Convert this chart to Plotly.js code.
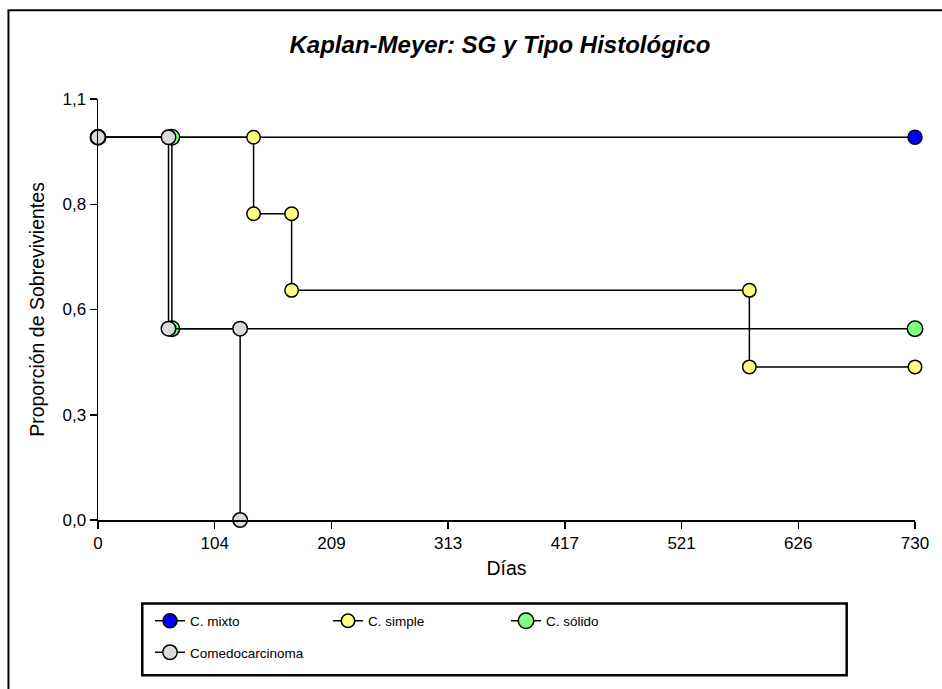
<!DOCTYPE html>
<html>
<head>
<meta charset="utf-8">
<script src="https://cdn.plot.ly/plotly-3.0.1.min.js"></script>
<style>html,body{margin:0;padding:0;background:#fff;}#chart{width:942px;height:689px;}</style>
</head>
<body>
<div id="chart"></div>
<script>
// Series names
const seriesNames = ["C. mixto", "C. simple", "C. sólido", "Comedocarcinoma"];
const seriesColors = ["#0000FF", "#FFFF80", "#80FF80", "#DADADA"];
const markerSizes = [14, 13.5, 15.5, 14.5];

// Kaplan-Meier step points (días, proporción)
const mixtoX = [0, 730];
const mixtoY = [1.0, 1.0];
const simpleX = [0, 139, 139, 173, 173, 582, 582, 730];
const simpleY = [1.0, 1.0, 0.8, 0.8, 0.6, 0.6, 0.4, 0.4];
const solidoX = [0, 66, 66, 730];
const solidoY = [1.0, 1.0, 0.5, 0.5];
const comedoX = [0, 63, 63, 127, 127];
const comedoY = [1.0, 1.0, 0.5, 0.5, 0.0];

// Tick labels
const xTickVals = [0, 104.29, 208.57, 312.86, 417.14, 521.43, 625.71, 730];
const xTickText = ["0", "104", "209", "313", "417", "521", "626", "730"];
const yTickVals = [0, 0.275, 0.55, 0.825, 1.1];
const yTickText = ["0,0", "0,3", "0,6", "0,8", "1,1"];

const FONT = "Liberation Sans, Arial, Helvetica, sans-serif";
const xs = [mixtoX, simpleX, solidoX, comedoX];
const ys = [mixtoY, simpleY, solidoY, comedoY];

const traces = seriesNames.map((name, i) => ({
  type: "scatter",
  mode: "lines+markers",
  name: name,
  x: xs[i],
  y: ys[i],
  cliponaxis: false,
  legend: i < 3 ? "legend" : "legend2",
  line: {color: "#000000", width: 1.5},
  marker: {symbol: "circle", size: markerSizes[i], color: seriesColors[i], line: {color: "#000000", width: 1.5}}
}));

const layout = {
  width: 942,
  height: 689,
  paper_bgcolor: "#ffffff",
  plot_bgcolor: "#ffffff",
  margin: {l: 98, r: 27, t: 99, b: 169},
  font: {family: FONT, color: "#000000"},
  title: {
    text: "<b><i>Kaplan-Meyer: SG y Tipo Histológico</i></b>",
    font: {family: FONT, size: 24, color: "#000000"},
    xref: "container", yref: "container",
    x: 0.5308, xanchor: "center",
    y: 0.935, yanchor: "middle"
  },
  xaxis: {
    range: [0, 730],
    tickmode: "array", tickvals: xTickVals, ticktext: xTickText,
    showline: true, linecolor: "#000000", linewidth: 1.5,
    ticks: "outside", ticklen: 7, tickwidth: 1.5, tickcolor: "#000000",
    showgrid: false, zeroline: false,
    tickfont: {family: FONT, size: 17, color: "#000000"},
    title: {text: "Días", font: {family: FONT, size: 19.5, color: "#000000"}, standoff: 9},
    automargin: false
  },
  yaxis: {
    range: [0, 1.1],
    tickmode: "array", tickvals: yTickVals, ticktext: yTickText,
    showline: true, linecolor: "#000000", linewidth: 1.5,
    ticks: "outside", ticklen: 7, tickwidth: 1.5, tickcolor: "#000000",
    showgrid: false, zeroline: false,
    tickfont: {family: FONT, size: 17, color: "#000000"},
    title: {text: "Proporción de Sobrevivientes", font: {family: FONT, size: 19.5, color: "#000000"}, standoff: 12},
    automargin: false
  },
  legend: {
    orientation: "h",
    xref: "container", yref: "container",
    x: 150 / 942, xanchor: "left",
    y: 1 - 605.5 / 689, yanchor: "top",
    entrywidth: 133, entrywidthmode: "pixels",
    bgcolor: "rgba(0,0,0,0)", borderwidth: 0,
    font: {family: FONT, size: 13.5, color: "#000000"},
    traceorder: "normal"
  },
  legend2: {
    orientation: "h",
    xref: "container", yref: "container",
    x: 150 / 942, xanchor: "left",
    y: 1 - 637 / 689, yanchor: "top",
    bgcolor: "rgba(0,0,0,0)", borderwidth: 0,
    font: {family: FONT, size: 13.5, color: "#000000"}
  },
  showlegend: true,
  shapes: [
    {type: "rect", xref: "paper", yref: "paper", x0: -0.1096, x1: 1.2, y0: -0.6, y1: 1.2107,
     line: {color: "#000000", width: 2}, fillcolor: "rgba(0,0,0,0)", layer: "below"},
    {type: "rect", xref: "paper", yref: "paper", x0: 0.0542, x1: 0.9164, y0: -0.3690, y1: -0.1983,
     line: {color: "#000000", width: 2.5}, fillcolor: "rgba(0,0,0,0)", layer: "below"}
  ]
};

Plotly.newPlot("chart", traces, layout, {staticPlot: true, displayModeBar: false});
</script>
</body>
</html>
